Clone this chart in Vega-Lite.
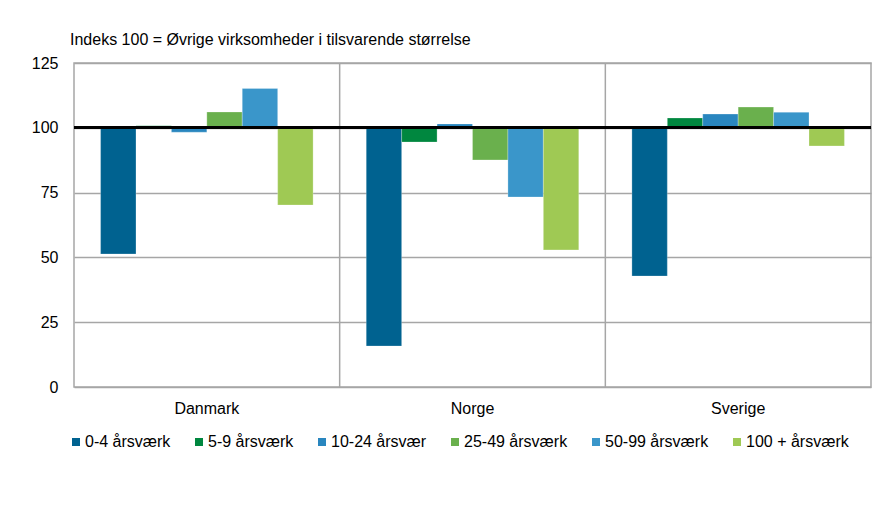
{
  "$schema": "https://vega.github.io/schema/vega-lite/v6.json",
  "width": 797,
  "height": 324,
  "autosize": "none",
  "padding": {"left": 74, "top": 63, "right": 2, "bottom": 124},
  "background": "white",
  "config": {
    "font": "Liberation Sans",
    "view": {"stroke": "#a6a6a6", "strokeWidth": 1.5},
    "axis": {"labelFont": "Liberation Sans", "labelFontSize": 16, "labelColor": "#000000"},
    "legend": {"labelFont": "Liberation Sans", "labelFontSize": 16, "labelColor": "#000000"}
  },
  "title": {
    "text": "Indeks 100 = Øvrige virksomheder i tilsvarende størrelse",
    "anchor": "start",
    "frame": "group",
    "dx": -4,
    "offset": 7,
    "font": "Liberation Sans",
    "fontSize": 16,
    "fontWeight": "normal",
    "color": "#000000"
  },
  "data": {
    "values": [
      {"land": "Danmark", "gruppe": "0-4 årsværk", "indeks": 51.3},
      {"land": "Danmark", "gruppe": "5-9 årsværk", "indeks": 100.8},
      {"land": "Danmark", "gruppe": "10-24 årsvær", "indeks": 98.3},
      {"land": "Danmark", "gruppe": "25-49 årsværk", "indeks": 106.1},
      {"land": "Danmark", "gruppe": "50-99 årsværk", "indeks": 115.2},
      {"land": "Danmark", "gruppe": "100 + årsværk", "indeks": 70.2},
      {"land": "Norge", "gruppe": "0-4 årsværk", "indeks": 15.8},
      {"land": "Norge", "gruppe": "5-9 årsværk", "indeks": 94.5},
      {"land": "Norge", "gruppe": "10-24 årsvær", "indeks": 101.5},
      {"land": "Norge", "gruppe": "25-49 årsværk", "indeks": 87.6},
      {"land": "Norge", "gruppe": "50-99 årsværk", "indeks": 73.3},
      {"land": "Norge", "gruppe": "100 + årsværk", "indeks": 52.9},
      {"land": "Sverige", "gruppe": "0-4 årsværk", "indeks": 42.8},
      {"land": "Sverige", "gruppe": "5-9 årsværk", "indeks": 103.8},
      {"land": "Sverige", "gruppe": "10-24 årsvær", "indeks": 105.3},
      {"land": "Sverige", "gruppe": "25-49 årsværk", "indeks": 108.0},
      {"land": "Sverige", "gruppe": "50-99 årsværk", "indeks": 106.0},
      {"land": "Sverige", "gruppe": "100 + årsværk", "indeks": 93.0}
    ]
  },
  "layer": [
    {
      "mark": {"type": "bar", "stroke": "#ffffff", "strokeOpacity": 0.5, "strokeWidth": 0.5},
      "encoding": {
        "x": {
          "field": "land", "type": "nominal", "sort": ["Danmark", "Norge", "Sverige"],
          "scale": {"paddingInner": 0, "paddingOuter": 0},
          "axis": {"title": null, "labelAngle": 0, "ticks": false, "domain": false, "labelPadding": 13, "grid": false}
        },
        "xOffset": {
          "field": "gruppe", "type": "nominal",
          "sort": ["0-4 årsværk", "5-9 årsværk", "10-24 årsvær", "25-49 årsværk", "50-99 årsværk", "100 + årsværk"],
          "scale": {"paddingInner": 0, "paddingOuter": 0.75}
        },
        "y": {
          "field": "indeks", "type": "quantitative",
          "scale": {"domain": [0, 125], "nice": false, "zero": false},
          "axis": {"title": null, "values": [0, 25, 50, 75, 100, 125], "ticks": false, "domain": false, "labelPadding": 16, "gridColor": "#a6a6a6", "gridWidth": 1.5, "gridOpacity": 1}
        },
        "y2": {"datum": 100},
        "color": {
          "field": "gruppe", "type": "nominal",
          "sort": ["0-4 årsværk", "5-9 årsværk", "10-24 årsvær", "25-49 årsværk", "50-99 årsværk", "100 + årsværk"],
          "scale": {
            "domain": ["0-4 årsværk", "5-9 årsværk", "10-24 årsvær", "25-49 årsværk", "50-99 årsværk", "100 + årsværk"],
            "range": ["#006290", "#00873f", "#2986bf", "#6ab04d", "#3a96ca", "#9fc954"]
          },
          "legend": {
            "title": null, "orient": "none", "direction": "horizontal", "columns": 6,
            "legendX": -6, "legendY": 371, "symbolType": "square", "symbolSize": 64,
            "symbolStrokeWidth": 0, "labelOffset": 1, "columnPadding": 20, "labelLimit": 300
          }
        }
      }
    },
    {
      "data": {"values": [{"land": "Norge"}, {"land": "Sverige"}]},
      "mark": {"type": "rule", "color": "#a6a6a6", "strokeWidth": 1.5},
      "encoding": {
        "x": {"field": "land", "type": "nominal", "bandPosition": 0}
      }
    },
    {
      "mark": {"type": "rule", "color": "#000000", "strokeWidth": 2},
      "encoding": {"y": {"datum": 100}}
    }
  ]
}
